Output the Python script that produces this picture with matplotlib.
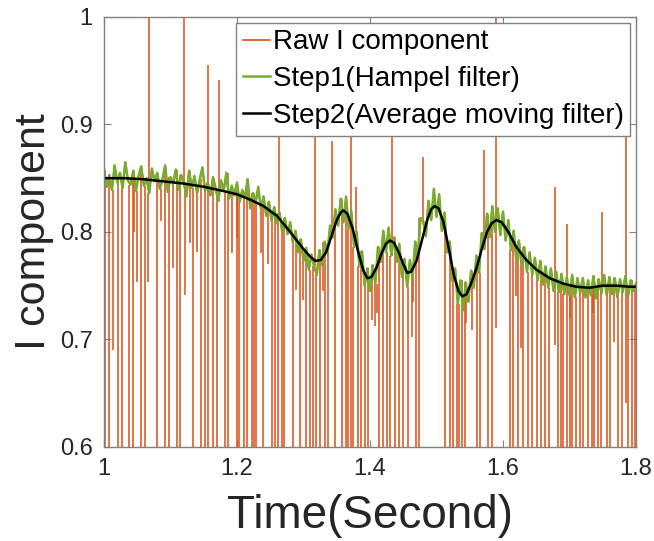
import numpy as np
import matplotlib
matplotlib.use("Agg")
import matplotlib.pyplot as plt

plt.rcParams["font.family"] = ["Liberation Sans", "DejaVu Sans"]

# sampling grid of the filtered signal (step 0.004 s)
t = np.linspace(1.0, 1.8, 201)

# Step1 output (Hampel filter), one row per 0.04 s
hampel = [
    0.858, 0.842, 0.853, 0.839, 0.862, 0.846, 0.855, 0.841, 0.865, 0.848,
    0.844, 0.857, 0.838, 0.852, 0.861, 0.843, 0.850, 0.836, 0.859, 0.847,
    0.855, 0.840, 0.849, 0.862, 0.837, 0.851, 0.845, 0.858, 0.839, 0.853,
    0.846, 0.833, 0.857, 0.841, 0.852, 0.836, 0.849, 0.860, 0.838, 0.846,
    0.834, 0.851, 0.840, 0.829, 0.848, 0.838, 0.855, 0.831, 0.843, 0.834,
    0.846, 0.828, 0.839, 0.832, 0.849, 0.822, 0.836, 0.827, 0.842, 0.821,
    0.833, 0.815, 0.828, 0.810, 0.823, 0.808, 0.818, 0.800, 0.813, 0.798,
    0.809, 0.790, 0.801, 0.781, 0.793, 0.773, 0.785, 0.765, 0.779, 0.768,
    0.760, 0.783, 0.769, 0.791, 0.780, 0.806, 0.795, 0.821, 0.806, 0.831,
    0.809, 0.833, 0.803, 0.819, 0.786, 0.800, 0.768, 0.782, 0.750, 0.766,
    0.745, 0.769, 0.752, 0.786, 0.772, 0.801, 0.781, 0.804, 0.778, 0.795,
    0.772, 0.789, 0.758, 0.775, 0.749, 0.774, 0.757, 0.791, 0.778, 0.813,
    0.810, 0.796, 0.829, 0.811, 0.840, 0.814, 0.835, 0.801, 0.818, 0.781,
    0.791, 0.754, 0.766, 0.733, 0.755, 0.727, 0.753, 0.735, 0.764, 0.748,
    0.778, 0.762, 0.799, 0.784, 0.817, 0.795, 0.824, 0.800, 0.822, 0.797,
    0.819, 0.792, 0.811, 0.783, 0.801, 0.774, 0.792, 0.768, 0.786, 0.763,
    0.781, 0.760, 0.776, 0.755, 0.773, 0.751, 0.768, 0.748, 0.766, 0.745,
    0.763, 0.744, 0.761, 0.742, 0.758, 0.741, 0.760, 0.739, 0.757, 0.743,
    0.757, 0.739, 0.755, 0.741, 0.759, 0.738, 0.756, 0.743, 0.760, 0.741,
    0.758, 0.742, 0.757, 0.739, 0.756, 0.744, 0.759, 0.740, 0.755, 0.745,
    0.752,
]

# Step2 output (moving average)
avg_t = [1.000, 1.030, 1.060, 1.090, 1.120, 1.150, 1.180, 1.200, 1.220, 1.240,
         1.260, 1.280, 1.300, 1.310, 1.318, 1.326, 1.334, 1.342, 1.350, 1.356,
         1.360, 1.366, 1.374, 1.382, 1.390, 1.396, 1.402, 1.410, 1.418, 1.424,
         1.430, 1.436, 1.444, 1.450, 1.456, 1.462, 1.470, 1.478, 1.486, 1.492,
         1.497, 1.503, 1.510, 1.518, 1.526, 1.533, 1.539, 1.545, 1.552, 1.560,
         1.568, 1.576, 1.583, 1.590, 1.598, 1.608, 1.620, 1.635, 1.650, 1.670,
         1.690, 1.710, 1.730, 1.750, 1.770, 1.790, 1.800]
avg_v = [0.850, 0.850, 0.849, 0.847, 0.845, 0.842, 0.838, 0.835, 0.830, 0.824,
         0.815, 0.800, 0.784, 0.777, 0.773, 0.774, 0.781, 0.796, 0.811, 0.818,
         0.820, 0.817, 0.803, 0.782, 0.764, 0.757, 0.758, 0.767, 0.781, 0.789,
         0.792, 0.790, 0.780, 0.770, 0.762, 0.763, 0.773, 0.792, 0.811, 0.821,
         0.824, 0.822, 0.810, 0.786, 0.760, 0.745, 0.740, 0.742, 0.752, 0.766,
         0.784, 0.800, 0.808, 0.811, 0.809, 0.800, 0.786, 0.774, 0.765, 0.757,
         0.752, 0.749, 0.748, 0.750, 0.750, 0.749, 0.749]

# outliers in the raw signal (time, value)
up_t = [1.0677, 1.1203, 1.1564, 1.1729, 1.2632, 1.3173, 1.3429, 1.3714, 1.3789,
        1.4331, 1.4797, 1.5714, 1.5895, 1.6782, 1.6962, 1.7489, 1.7850]
up_v = [1.05, 1.05, 0.955, 0.941, 0.930, 0.930, 0.885, 0.950, 0.842,
        0.930, 0.870, 0.876, 1.05, 0.842, 0.807, 0.819, 0.950]

down_t = [1.0010, 1.0075, 1.0131, 1.0215, 1.0266, 1.0380, 1.0441, 1.0492, 1.0552,
          1.0617, 1.0666, 1.0802, 1.0917, 1.0982, 1.1033, 1.1093, 1.1143, 1.1215,
          1.1334, 1.1394, 1.1454, 1.1519, 1.1568, 1.1635, 1.1695, 1.1820, 1.1860,
          1.1925, 1.1995, 1.2035, 1.2105, 1.2146, 1.2221, 1.2256, 1.2286, 1.2395,
          1.2466, 1.2522, 1.2571, 1.2621, 1.2672, 1.2711, 1.2838, 1.2887, 1.2947,
          1.2997, 1.3038, 1.3098, 1.3147, 1.3188, 1.3248, 1.3323, 1.3373, 1.3474,
          1.3574, 1.3639, 1.3674, 1.3710, 1.3740, 1.3824, 1.3865, 1.3925, 1.3974,
          1.4026, 1.4075, 1.4140, 1.4200, 1.4251, 1.4301, 1.4376, 1.4441, 1.4501,
          1.4567, 1.4627, 1.4687, 1.4741, 1.5128, 1.5203, 1.5253, 1.5304, 1.5338,
          1.5379, 1.5429, 1.5529, 1.5605, 1.5654, 1.5779, 1.5830, 1.5890, 1.6105,
          1.6155, 1.6221, 1.6271, 1.6305, 1.6380, 1.6432, 1.6507, 1.6571, 1.6632,
          1.6692, 1.6782, 1.6832, 1.6872, 1.6907, 1.6958, 1.7008, 1.7042, 1.7093,
          1.7158, 1.7208, 1.7274, 1.7334, 1.7373, 1.7424, 1.7474, 1.7559, 1.7609,
          1.7674, 1.7734, 1.7785, 1.7845, 1.7884, 1.7935, 1.7985,
          1.0450, 1.0850, 1.1300, 1.2000, 1.2360, 1.3300, 1.4100, 1.4650, 1.5450,
          1.6200, 1.7000, 1.7350]
down_v = [0.50, 0.50, 0.690, 0.50, 0.50, 0.50, 0.50, 0.753, 0.50,
          0.50, 0.753, 0.50, 0.50, 0.50, 0.766, 0.50, 0.50, 0.741,
          0.50, 0.781, 0.50, 0.50, 0.50, 0.50, 0.50, 0.50, 0.50,
          0.780, 0.50, 0.50, 0.50, 0.50, 0.50, 0.50, 0.50, 0.50,
          0.770, 0.50, 0.50, 0.50, 0.50, 0.50, 0.50, 0.746, 0.50,
          0.737, 0.50, 0.50, 0.50, 0.50, 0.50, 0.50, 0.50, 0.50,
          0.50, 0.50, 0.50, 0.50, 0.50, 0.50, 0.50, 0.50, 0.50,
          0.718, 0.712, 0.50, 0.50, 0.50, 0.50, 0.50, 0.50, 0.50,
          0.50, 0.702, 0.50, 0.50, 0.50, 0.50, 0.50, 0.50, 0.50,
          0.50, 0.50, 0.709, 0.50, 0.50, 0.50, 0.50, 0.711, 0.50,
          0.50, 0.50, 0.692, 0.50, 0.50, 0.50, 0.50, 0.50, 0.50,
          0.50, 0.695, 0.50, 0.50, 0.50, 0.50, 0.50, 0.50, 0.50,
          0.50, 0.50, 0.50, 0.50, 0.50, 0.50, 0.50, 0.50, 0.50,
          0.698, 0.50, 0.50, 0.641, 0.50, 0.50, 0.50,
          0.800, 0.810, 0.790, 0.795, 0.780, 0.745, 0.725, 0.735, 0.715,
          0.740, 0.720, 0.725]

RED = "#D95319"
GREEN = "#77AC30"

fig = plt.figure(figsize=(6.54, 5.41), dpi=100)
ax = fig.add_axes([0.159, 0.174, 0.8135, 0.7946])

hampel = np.array(hampel)

# raw signal = filtered signal plus outliers; outliers start at the local sample
ax.plot(t, hampel, color=RED, lw=1.2, label="Raw I component")
spk_t = np.array(up_t + down_t)
spk_v = np.array(up_v + down_v)
base = hampel[np.clip(np.round((spk_t - 1.0) / 0.004).astype(int), 0, len(t) - 1)]
ax.vlines(spk_t, base, spk_v, color=RED, lw=1.25, alpha=0.9)

ax.plot(t, hampel, color=GREEN, lw=1.8, label="Step1(Hampel filter)")
ax.plot(avg_t, avg_v, color="black", lw=1.8, label="Step2(Average moving filter)")

ax.set_xlim(1.0, 1.8)
ax.set_ylim(0.6, 1.0)
ax.set_xticks([1.0, 1.2, 1.4, 1.6, 1.8])
ax.set_xticklabels(["1", "1.2", "1.4", "1.6", "1.8"])
ax.set_yticks([0.6, 0.7, 0.8, 0.9, 1.0])
ax.set_yticklabels(["0.6", "0.7", "0.8", "0.9", "1"])
ax.tick_params(direction="in", length=5, width=0.8, top=True, right=True,
               labelsize=17, colors="#808080", labelcolor="#262626", pad=8)
for s in ax.spines.values():
    s.set_color("#808080")
    s.set_linewidth(1.0)

ax.set_xlabel("Time(Second)", fontsize=33, color="#262626", labelpad=10)
ax.set_ylabel("I component", fontsize=31, color="#262626", labelpad=4)

leg = ax.legend(loc="upper right", fontsize=20, frameon=True, fancybox=False,
                framealpha=1, edgecolor="#808080", handlelength=0.95,
                handletextpad=0.1, labelspacing=0.38, borderpad=0.25,
                borderaxespad=0.2)
leg.get_frame().set_linewidth(1.0)

fig.savefig("out.png", dpi=100)
